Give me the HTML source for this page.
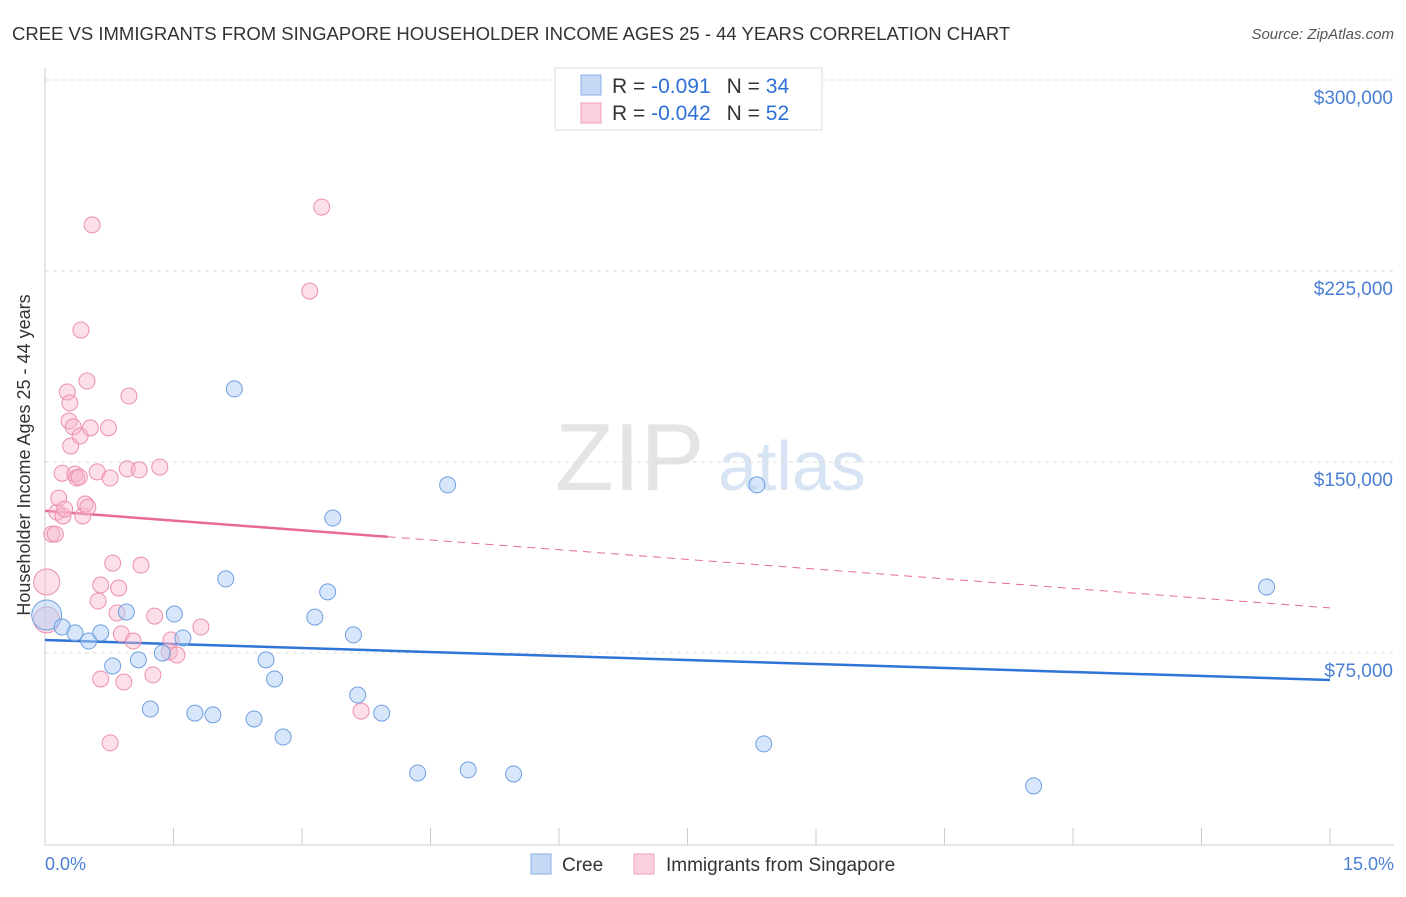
<!DOCTYPE html>
<html><head><meta charset="utf-8"><style>
body{margin:0;background:#fff;font-family:"Liberation Sans",sans-serif}
svg text{font-family:"Liberation Sans",sans-serif}
</style></head><body>
<svg width="1406" height="892" viewBox="0 0 1406 892">
<text x="12" y="40" font-size="18.5" fill="#333">CREE VS IMMIGRANTS FROM SINGAPORE HOUSEHOLDER INCOME AGES 25 - 44 YEARS CORRELATION CHART</text>
<text x="1394" y="39" font-size="15" fill="#555" text-anchor="end" font-style="italic">Source: ZipAtlas.com</text>
<g>
<text x="555" y="490" font-size="96" fill="#e4e4e4" font-family="Liberation Serif">ZIP</text>
<text x="718" y="490" font-size="70" fill="#d6e4f4">atlas</text>
</g>
<g id="grid"></g><g id="axes"></g><g id="lines"></g><g id="pts"></g>
<text x="30" y="455" font-size="18" fill="#333" text-anchor="middle" transform="rotate(-90 30 455)">Householder Income Ages 25 - 44 years</text>
<text x="45" y="870" font-size="18" fill="#4a7fd4">0.0%</text>
<text x="1394" y="870" font-size="18" fill="#4a7fd4" text-anchor="end">15.0%</text>
<g>
<rect x="555" y="68" width="267" height="62" fill="#fff" stroke="#ddd"/>
<rect x="581" y="75" width="20" height="20" fill="#c5d9f5" stroke="#8ab0e6"/>
<rect x="581" y="103" width="20" height="20" fill="#fbd0dd" stroke="#f0a0b8"/>
<text x="612" y="93" font-size="21" fill="#333">R = <tspan fill="#2f6fd6">-0.091</tspan><tspan dx="16">N = </tspan><tspan fill="#2f6fd6">34</tspan></text>
<text x="612" y="120" font-size="21" fill="#333">R = <tspan fill="#2f6fd6">-0.042</tspan><tspan dx="16">N = </tspan><tspan fill="#2f6fd6">52</tspan></text>
</g>
<g>
<rect x="531" y="854" width="20" height="20" fill="#c5d9f5" stroke="#8ab0e6"/>
<text x="562" y="871" font-size="19" fill="#333">Cree</text>
<rect x="634" y="854" width="20" height="20" fill="#fbd0dd" stroke="#f0a0b8"/>
<text x="666" y="871" font-size="19" fill="#333">Immigrants from Singapore</text>
</g>
</svg>
<script>
const yTicks=[75000,150000,225000,300000];
const yTickLabels=["$75,000","$150,000","$225,000","$300,000"];
const xTicks=[0,1.5,3,4.5,6,7.5,9,10.5,12,13.5,15];
const creeX=[0.02,0.20,0.35,0.51,0.65,0.79,0.95,1.09,1.23,1.37,1.51,1.61,1.75,1.96,2.11,2.21,2.44,2.58,2.68,2.78,3.15,3.30,3.36,3.60,3.65,3.93,4.35,4.70,4.94,5.47,8.31,8.39,11.54,14.26];
const creeY=[89.9,85.2,82.9,79.7,82.9,69.9,91.1,72.3,53.0,75.0,90.3,80.9,51.4,50.7,104.1,178.7,49.1,72.3,64.8,42.0,89.1,99.0,128.0,82.1,58.5,51.4,27.9,141.0,29.1,27.5,141.0,39.3,22.8,100.9];
const sgX=[0.02,0.02,0.08,0.12,0.14,0.16,0.20,0.21,0.23,0.26,0.28,0.29,0.30,0.33,0.35,0.37,0.40,0.41,0.42,0.44,0.47,0.49,0.50,0.53,0.55,0.61,0.62,0.65,0.65,0.74,0.76,0.76,0.79,0.84,0.86,0.89,0.92,0.96,0.98,1.03,1.10,1.12,1.26,1.28,1.34,1.45,1.47,1.54,1.82,3.09,3.23,3.69];
const sgY=[102.9,88.0,121.7,121.7,130.3,135.8,145.6,128.8,131.5,177.5,166.1,173.2,156.3,163.8,145.3,143.7,144.1,160.2,201.8,128.8,133.5,181.8,132.3,163.4,243.1,146.1,95.4,64.8,101.7,163.4,143.7,39.7,110.3,90.7,100.5,82.5,63.6,147.3,175.9,79.7,146.9,109.5,66.4,89.5,148.0,75.4,80.1,74.2,85.2,217.1,250.1,52.2];
const creeTrend=[80.1,64.4];
const sgTrend=[130.8,92.7];
const sgSolidEnd=4.0;
const NS='http://www.w3.org/2000/svg';
const X=p=>45+p*(1330-45)/15;
const Y=v=>653-(v-75000)*191/75000;
const Yk=k=>Y(k*1000);
function mk(tag,attrs,parent){const e=document.createElementNS(NS,tag);for(const k in attrs)e.setAttribute(k,attrs[k]);document.getElementById(parent).appendChild(e);return e;}
yTicks.forEach((t,i)=>{
 const l=mk('line',{x1:45,x2:1394,y1:Y(t),y2:Y(t),stroke:'#ddd','stroke-dasharray':'4,4'},'grid');
 
 
 const tx=mk('text',{x:1393,y:Y(t)+24,'font-size':19,fill:'#4a7fd4','text-anchor':'end'},'grid');
 tx.textContent=yTickLabels[i];
 
 
});
const ax=mk('line',{x1:45,x2:1394,y1:845,y2:845,stroke:'#ccc'},'axes');


const ay=mk('line',{x1:45,x2:45,y1:68,y2:845,stroke:'#ccc'},'axes');


xTicks.forEach(t=>{
 const l=mk('line',{x1:X(t),x2:X(t),y1:828,y2:845,stroke:'#ccc'},'axes');
 
 
});
const cl=mk('line',{x1:X(0),y1:Yk(creeTrend[0]),x2:X(15),y2:Yk(creeTrend[1]),stroke:'#2f74d6','stroke-width':2.5},'lines');


const sm=sgTrend[0]+(sgTrend[1]-sgTrend[0])*sgSolidEnd/15;
const sl=mk('line',{x1:X(0),y1:Yk(sgTrend[0]),x2:X(sgSolidEnd),y2:Yk(sm),stroke:'#e86a93','stroke-width':2.5},'lines');


const sd=mk('line',{x1:X(sgSolidEnd),y1:Yk(sm),x2:X(15),y2:Yk(sgTrend[1]),stroke:'#e86a93','stroke-width':1,'stroke-dasharray':'8,6'},'lines');


sgX.forEach((x,i)=>{
 const c=mk('circle',{cx:X(x),cy:Yk(sgY[i]),r:i<2?13:8,fill:'rgba(248,185,205,0.45)',stroke:'#ec8fae','stroke-width':1},'pts');
 
 
});
creeX.forEach((x,i)=>{
 const c=mk('circle',{cx:X(x),cy:Yk(creeY[i]),r:i==0?15:8,fill:'rgba(175,205,245,0.5)',stroke:'#6f9fe0','stroke-width':1},'pts');
 
 
});
</script>
</body></html>
